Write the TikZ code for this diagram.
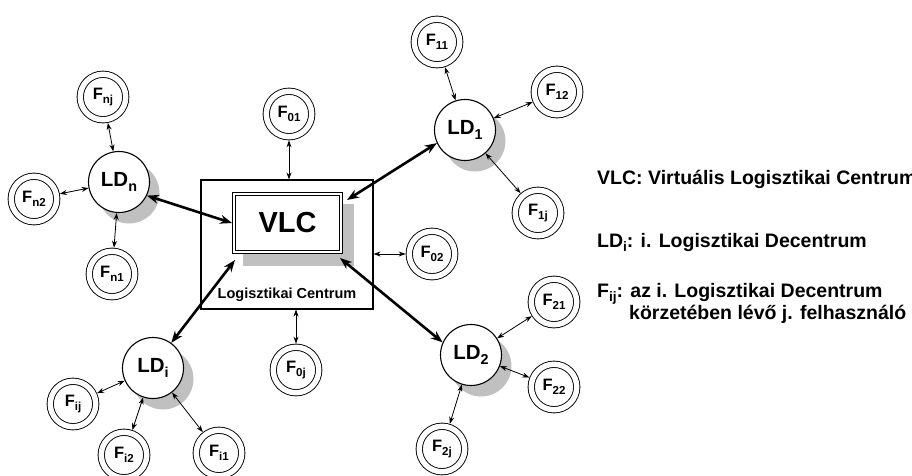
\documentclass[tikz,border=0pt]{standalone}
\usepackage{fontspec}
\setmainfont{Liberation Sans}
\usetikzlibrary{arrows.meta,calc,shadows}
\definecolor{shadowgray}{RGB}{192,192,192}
% lowered, reduced index for the labels
\newcommand\subx[1]{\raisebox{-0.45ex}{\scalebox{0.7}{#1}}}

\begin{document}
\begin{tikzpicture}[x=1pt,y=-1pt,
  user/.style={circle,draw,fill=white,line width=0.9pt,double,double distance=5.4pt,
    minimum size=45.5pt,inner sep=0pt,outer sep=3.6pt,
    font=\fontsize{16.5}{19}\selectfont\bfseries},
  depot/.style={circle,draw,fill=white,line width=1.1pt,minimum size=61pt,inner sep=0pt,
    general shadow={fill=shadowgray,shadow xshift=10pt,shadow yshift=-11pt},
    font=\fontsize{20.5}{24}\selectfont\bfseries},
  centre/.style={draw,fill=white,line width=1.3pt,double,double distance=1.8pt,
    minimum width=106.6pt,minimum height=57.6pt,inner sep=0pt,outer sep=2.2pt,
    font=\fontsize{29}{34}\selectfont\bfseries},
  centreshadow/.style={fill=shadowgray,minimum width=111pt,minimum height=62pt,inner sep=0pt},
  frame/.style={draw,line width=1.1pt,minimum width=172pt,minimum height=129pt,inner sep=0pt},
  link/.style={line width=0.8pt,{Stealth[length=7pt,width=5pt]}-{Stealth[length=7pt,width=5pt]}},
  mainlink/.style={line width=2.6pt,{Stealth[length=12pt,width=9pt]}-{Stealth[length=12pt,width=9pt]}},
  legend/.style={anchor=base west,inner sep=0pt,font=\fontsize{19.5}{23}\selectfont\bfseries}]

\useasboundingbox (0,0) rectangle (912,476);

% logistics centre with the virtual centre inside
\node[frame] (box) at (287,244.5) {};
\node[font=\fontsize{14.5}{17}\selectfont\bfseries] (boxlabel) at (287,295) {Logisztikai Centrum};
\node[centreshadow] (vlcshadow) at (298.5,235) {};
\node[centre] (vlc) at (287.5,223) {VLC};

% users served directly by the centre
\node[user] (F01) at (289,114) {F\subx{01}};
\node[user] (F02) at (432,254) {F\subx{02}};
\node[user] (F0j) at (296,370) {F\subx{0j}};

% decentres
\node[depot] (LDn) at (119,182) {LD\subx{n}};
\node[depot] (LD1) at (465,130) {LD\subx{1}};
\node[depot] (LDi) at (153,368) {LD\subx{i}};
\node[depot] (LD2) at (471,355) {LD\subx{2}};

% users of the decentres
\node[user] (Fnj) at (103,97) {F\subx{nj}};
\node[user] (Fn2) at (34,199) {F\subx{n2}};
\node[user] (Fn1) at (112,274) {F\subx{n1}};
\node[user] (F11) at (437,42) {F\subx{11}};
\node[user] (F12) at (557,92) {F\subx{12}};
\node[user] (F1j) at (538,213) {F\subx{1j}};
\node[user] (F21) at (554,302) {F\subx{21}};
\node[user] (F22) at (554,387) {F\subx{22}};
\node[user] (F2j) at (442,449) {F\subx{2j}};
\node[user] (Fij) at (73,404) {F\subx{ij}};
\node[user] (Fi2) at (124,455) {F\subx{i2}};
\node[user] (Fi1) at (219,453) {F\subx{i1}};

% main links between the decentres and the virtual centre
\draw[mainlink] (LDn.-26) -- (vlc.west);
\draw[mainlink] (LD1.205) -- ($(vlc.north east)+(4,8)$);
\draw[mainlink] (LDi.54) -- ($(vlc.south west)+(3,6)$);
\draw[mainlink] (LD2.156) -- ($(vlc.south east)+(-3,4)$);

% local links
\draw[link] (F01) -- (F01 |- box.north);
\draw[link] (F0j) -- (F0j |- box.south);
\draw[link] (F02) -- (F02 -| box.east);
\draw[link] (Fnj) -- (LDn);
\draw[link] (Fn2) -- (LDn);
\draw[link] (Fn1) -- (LDn);
\draw[link] (F11) -- (LD1);
\draw[link] (F12) -- (LD1);
\draw[link] (F1j) -- (LD1);
\draw[link] (F21) -- (LD2);
\draw[link] (F22) -- (LD2);
\draw[link] (F2j) -- (LD2);
\draw[link] (Fij) -- (LDi);
\draw[link] (Fi2) -- (LDi);
\draw[link] (Fi1) -- (LDi);

% legend
\node[legend] (leg1) at (597,184) {VLC: Virtuális Logisztikai Centrum};
\node[legend] (leg2) at (597,247) {LD\subx{i}: i. Logisztikai Decentrum};
\node[legend] (leg3) at (597,297) {F\subx{ij}: az i. Logisztikai Decentrum};
\node[legend] (leg4) at (629,319) {körzetében lévő j. felhasználó};
\end{tikzpicture}
\end{document}
